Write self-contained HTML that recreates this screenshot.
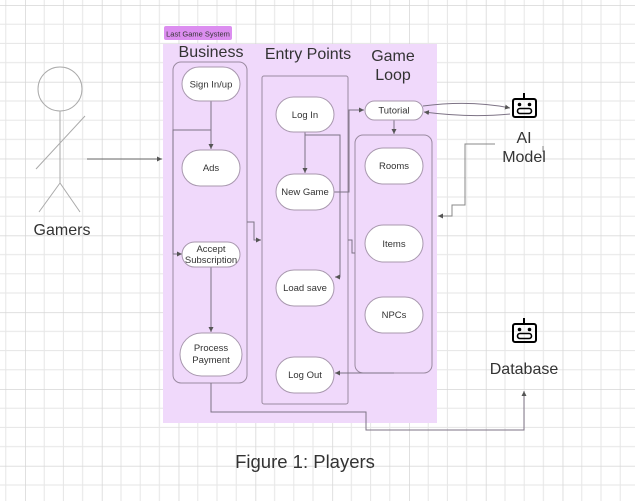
<!DOCTYPE html>
<html><head><meta charset="utf-8"><style>
html,body{margin:0;padding:0;background:#fff}
svg{display:block}
text{font-family:"Liberation Sans",sans-serif;fill:#333}
</style></head><body>
<svg width="635" height="501" viewBox="0 0 635 501" xmlns="http://www.w3.org/2000/svg">
<defs>
<pattern id="g" patternUnits="userSpaceOnUse" x="25" y="5" width="76.8" height="76.8">
<path d="M0 0V76.8M19.2 0V76.8M38.4 0V76.8M57.6 0V76.8M0 0H76.8M0 19.2H76.8M0 38.4H76.8M0 57.6H76.8" stroke="#e6e6e6" stroke-width="1" fill="none"/>
<path d="M0 0V76.8M0 0H76.8" stroke="#d6d6d6" stroke-width="1.5" fill="none"/>
</pattern>
<marker id="a" markerWidth="6" markerHeight="6" refX="5" refY="3" orient="auto" markerUnits="userSpaceOnUse"><path d="M0,0.5 L5,3 L0,5.5z" fill="#555"/></marker>
</defs>
<rect width="635" height="501" fill="url(#g)"/>
<rect x="163" y="44" width="274" height="379" fill="#f0d9fb"/>
<rect x="164" y="26" width="68" height="14" rx="2" fill="#dc8ef0"/>
<text x="198" y="36.5" font-size="7.5" text-anchor="middle" fill="#333">Last Game System</text>
<text x="211" y="57" font-size="16" text-anchor="middle">Business</text>
<text x="308" y="59" font-size="16" text-anchor="middle">Entry Points</text>
<text x="393" y="61" font-size="16" text-anchor="middle">Game</text>
<text x="393" y="80" font-size="16" text-anchor="middle">Loop</text>
<g fill="none" stroke="#9a8aa0" stroke-width="1">
<rect x="173" y="62" width="74" height="321" rx="8"/>
<rect x="262" y="76" width="86" height="328" rx="2"/>
<rect x="355" y="135" width="77" height="238" rx="8"/>
</g>
<g fill="none" stroke="#7d7385" stroke-width="1">
<path d="M87 159H162" stroke="#666" marker-end="url(#a)"/>
<path d="M211 101V130H173V254H182" marker-end="url(#a)"/>
<path d="M211 101V149" marker-end="url(#a)"/>
<path d="M211 267V332" marker-end="url(#a)"/>
<path d="M247 222H254V240H261" marker-end="url(#a)"/>
<path d="M305 132V173" marker-end="url(#a)"/>
<path d="M305 135H340V277H335" marker-end="url(#a)"/>
<path d="M334 192H349V110H364" marker-end="url(#a)"/>
<path d="M394 120V134" marker-end="url(#a)"/>
<path d="M394 373H335" marker-end="url(#a)"/>
<path d="M348 240H352V253H355"/>
<path d="M423 106Q470 100 510 108" marker-end="url(#a)"/>
<path d="M510 114Q470 118 424 112" marker-end="url(#a)"/>
<path d="M211 383V412H366V430H524V391" marker-end="url(#a)"/>
<path d="M495 144H465V205H452V216H438" stroke="#888" marker-end="url(#a)"/>
<path d="M543 146V152" stroke="#888"/>
</g>
<g fill="#fff" stroke="#a898ae" stroke-width="1">
<rect x="182" y="67" width="58" height="34" rx="17"/>
<rect x="182" y="150" width="58" height="36" rx="18"/>
<rect x="182" y="242" width="58" height="25" rx="12.5"/>
<rect x="180" y="333" width="62" height="43" rx="21.5"/>
<rect x="276" y="97" width="58" height="35" rx="17.5"/>
<rect x="276" y="174" width="58" height="36" rx="18"/>
<rect x="276" y="270" width="58" height="36" rx="18"/>
<rect x="276" y="357" width="58" height="36" rx="18"/>
<rect x="365" y="101" width="58" height="19" rx="9.5"/>
<rect x="365" y="148" width="58" height="36" rx="18"/>
<rect x="365" y="225" width="58" height="37" rx="18.5"/>
<rect x="365" y="297" width="58" height="36" rx="18"/>
</g>
<g font-size="9.5" text-anchor="middle">
<text x="211" y="87.5">Sign In/up</text>
<text x="211" y="171">Ads</text>
<text x="211" y="252">Accept</text>
<text x="211" y="263">Subscription</text>
<text x="211" y="351">Process</text>
<text x="211" y="363">Payment</text>
<text x="305" y="118">Log In</text>
<text x="305" y="195">New Game</text>
<text x="305" y="291">Load save</text>
<text x="305" y="378">Log Out</text>
<text x="394" y="113.5">Tutorial</text>
<text x="394" y="169">Rooms</text>
<text x="394" y="247">Items</text>
<text x="394" y="318">NPCs</text>
</g>
<g fill="none" stroke="#aaa" stroke-width="1">
<circle cx="60" cy="89" r="22"/>
<path d="M60 111V183M36 169L85 116M60 183L39 212M60 183L80 212"/>
</g>
<text x="62" y="235" font-size="16" text-anchor="middle">Gamers</text>
<g id="r" fill="none" stroke="#000" stroke-width="2">
<path d="M524 93V99"/>
<rect x="513" y="99" width="23" height="18" rx="2"/>
<rect x="517.5" y="108.5" width="14" height="5" rx="2.5" stroke-width="1.6"/>
<circle cx="519.5" cy="104.5" r="0.8" fill="#000"/>
<circle cx="529.5" cy="104.5" r="0.8" fill="#000"/>
</g>
<use href="#r" y="225"/>
<text x="524" y="143" font-size="16" text-anchor="middle">AI</text>
<text x="524" y="162" font-size="16" text-anchor="middle">Model</text>
<text x="524" y="374" font-size="16" text-anchor="middle">Database</text>
<text x="305" y="468" font-size="18.5" text-anchor="middle">Figure 1: Players</text>
</svg>
</body></html>
